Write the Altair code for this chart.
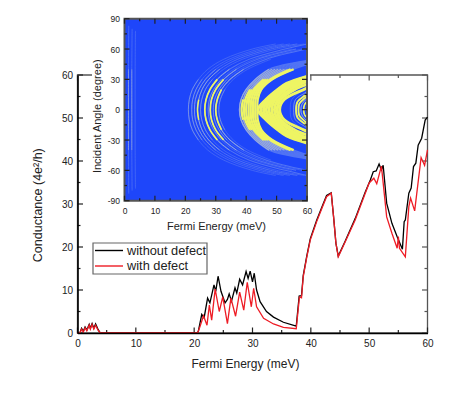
import altair as alt

# ---------- main plot values ----------
SERIES_NAMES = ["without defect", "with defect"]
BLACK_E = [0, .4, .7, 1, 1.3, 1.6, 2, 2.2, 2.5, 2.8, 3.1, 3.5, 3.9, 10, 20.4, 20.7, 21.3, 21.7, 22.3, 22.7, 23.4, 23.7, 24.1, 24.6, 25.3, 25.7, 26, 26.4, 27, 27.3, 27.8, 28.3, 28.9, 29.25, 29.6, 30, 30.3, 30.7, 31.3, 32.4, 33.6, 35.3, 37.5, 38, 38.4, 38.7, 39.3, 39.9, 41, 41.9, 42.7, 43.5, 43.9, 44.3, 44.7, 45.9, 47.6, 49.3, 50.2, 50.7, 51.2, 51.7, 52.1, 52.4, 53, 53.9, 54.8, 55.7, 56, 56.2, 56.8, 57.2, 57.6, 58, 58.4, 59, 59.6, 60]
BLACK_G = [0, 0, 1.1, .4, 1.4, .7, 2, 1.1, 2.2, 1.1, 2.1, .9, 0, 0, 0, .3, 4.3, 3.5, 8.1, 7, 11.2, 9.7, 13.2, 9.7, 7, 7.8, 9.1, 7.4, 10.5, 9.3, 12.5, 11.2, 14.3, 12.7, 14.4, 11.9, 13.9, 10, 7.3, 5, 3.7, 2.5, 1.6, 8.6, 8.7, 13.4, 17.9, 21.9, 26.2, 29.3, 32, 32.6, 27, 20.9, 17.9, 21.4, 26.6, 32.7, 35.6, 37.5, 37.7, 39.3, 37.9, 39, 30.2, 25.5, 22.4, 19.5, 25.9, 26.3, 32.5, 33.7, 38.7, 39.5, 43.7, 45.3, 49.5, 50.2]
RED_E = [0, .4, .7, 1, 1.3, 1.6, 2, 2.2, 2.5, 2.8, 3.1, 3.5, 3.9, 10, 20.6, 21, 21.6, 22.2, 22.6, 23, 23.6, 24.3, 24.9, 25.7, 26.3, 27.1, 27.8, 28.5, 29.1, 29.8, 30.2, 30.7, 31.9, 33.6, 35.3, 37.5, 38.05, 38.4, 38.7, 39.3, 39.9, 41, 41.9, 42.7, 43.5, 43.9, 44.3, 44.7, 45.9, 47.6, 49.3, 50, 50.8, 51.3, 52.1, 53, 53.9, 54.8, 55, 55.2, 56.2, 56.8, 57.1, 57.8, 58.9, 59.5, 60]
RED_G = [0, 0, .9, .2, 1.2, .5, 1.8, .9, 2, .9, 1.8, .7, 0, 0, 0, 1.5, 4, 1.8, 6.5, 3, 10.2, 5, 8.4, 2.2, 8.1, 3.9, 9.5, 5.3, 11.8, 6.1, 10.4, 6.1, 3.4, 2.1, 1.3, 1, 8.4, 8.2, 13.1, 17.6, 21.6, 25.9, 29, 31.7, 32.5, 27, 20.9, 17.7, 21.2, 26.3, 32.4, 34.9, 36, 34.7, 38.8, 27, 23.2, 19.7, 22.4, 19.7, 17.7, 29.4, 31.4, 28.4, 40.8, 39, 42.6]
MAIN_MAJOR_X = [0, 10, 20, 30, 40, 50, 60]
MAIN_MINOR_X = [5, 15, 25, 35, 45, 55]
MAIN_MAJOR_Y = [0, 10, 20, 30, 40, 50, 60]
MAIN_MINOR_Y = [5, 15, 25, 35, 45, 55]
INSET_MAJOR_Y = [-90, -60, -30, 0, 30, 60, 90]
INSET_MINOR_Y = [-75, -45, -15, 15, 45, 75]

# ---------- inset arcs: (angle, energy) points ----------
# each entry: points, angle up to which it is yellow, angle up to which it is pale, line width
T = [0, 10, 20, 30, 40, 50, 60, 65]
ARCS_A = [
    ([21.0, 21.3, 22.3, 24.3, 27.4, 32.7, 42, 49.7], -1, 30, 1.1),
    ([22.1, 22.4, 23.5, 25.5, 28.8, 34.4, 44.2, 52.3], -1, 30, 1.1),
    ([23.0, 23.3, 24.5, 26.6, 30, 35.8, 46, 54.4], -1, 40, 1.2),
    ([24.0, 24.4, 25.5, 27.7, 31.3, 37.3, 48, 56.8], 10, 40, 1.5),
    ([25.0, 25.4, 26.6, 28.9, 32.6, 38.9, 50, 59.1], -1, 30, 1.1),
]
ARCS_B = [
    ([26.4, 26.8, 28.1, 30.5, 34.5, 41.1, 52.8, 60], 30, 40, 1.7),
    ([27.5, 27.9, 29.3, 31.8, 35.9, 42.8, 55], -1, 30, 1.0),
    ([28.2, 28.6, 30, 32.6, 36.8, 43.9, 56.4], 30, 40, 1.7),
    ([29.2, 29.6, 31.1, 33.7, 38.1, 45.4, 58.4], -1, 30, 1.0),
    ([30.0, 30.5, 31.9, 34.7, 39.2, 46.7, 60], 20, 40, 1.7),
    ([31.0, 31.5, 33, 35.8, 40.5, 48.2], -1, 20, 1.0),
]
T_C = [0, 10, 20, 30, 40]
ARCS_C = [
    ([37.8, 38.3, 40, 43, 47.5], 48.5, 0),
    ([38.5, 39, 40.6, 43.7, 48.5], 48, 10),
    ([39.3, 39.7, 41.3, 44.4, 49.5], 47.5, 20),
    ([40, 40.4, 41.9, 45.1, 50.5], 47, 20),
    ([40.8, 41, 42.5, 45.8, 51.5], 46.5, 30),
    ([41.5, 41.7, 43.1, 46.5, 52.6], 46, 30),
    ([42.2, 42.4, 43.8, 47.2, 53.6], 45.5, 30),
    ([43, 43.1, 44.4, 47.9, 54.6], 45, 40),
    ([43.7, 43.8, 45, 48.6, 55.6], 44.5, 40),
]
ARCS_D = [
    ([(0, 43.9), (10, 46.5), (20, 50.4), (26, 53.3), (33, 60)]),
    ([(0, 44.8), (10, 47), (20, 50.7), (26, 54), (32, 60)]),
    ([(0, 45.7), (10, 47.6), (20, 51.2), (26, 54.8), (31, 60)]),
    ([(0, 46.6), (10, 48.2), (20, 51.7), (26, 55.6), (30.5, 60)]),
    ([(0, 47.5), (10, 48.9), (20, 52.3), (26, 56.4), (30, 60)]),
    ([(0, 48.4), (10, 49.6), (20, 53), (26, 57.3), (29, 60)]),
    ([(0, 49.3), (10, 50.5), (20, 54.5), (28, 60)]),
    ([(0, 50.2), (10, 51.4), (20, 56), (25, 60)]),
    ([(0, 51), (10, 52.5), (20, 59), (21.5, 60)]),
]
ARCS_E = [
    ([(0, 54.5), (10, 55), (18, 58), (22, 60)], -1, -1, 1.0),
    ([(0, 55.6), (10, 56.2), (16, 59), (18, 60)], -1, 18, 1.0),
    ([(0, 56.4), (8, 56.9), (14, 59.3), (16, 60)], 16, 16, 1.8),
    ([(0, 57.2), (6, 57.5), (12, 59.5), (13.5, 60)], 14, 14, 1.8),
    ([(0, 58), (5, 58.3), (10, 59.6), (11, 60)], -1, 11, 1.4),
    ([(0, 58.9), (5, 59.2), (8, 60)], 8, 8, 1.5),
    ([(0, 59.7), (3, 60)], -1, 3, 1.4),
]
ARCS_LOW = [
    ([(0, 1.3), (40, 1.3), (83, 1.4)], -1, 40, 1.3),
    ([(0, 2.4), (40, 2.4), (80, 2.5)], -1, 40, 1.2),
    ([(0, 3.5), (40, 3.5), (78, 3.6)], -1, -1, 1.1),
]

# ---------- build rows ----------
main_rows = [{"E": e, "G": g, "s": SERIES_NAMES[0]} for e, g in zip(BLACK_E, BLACK_G)] + \
            [{"E": e, "G": g, "s": SERIES_NAMES[1]} for e, g in zip(RED_E, RED_G)]

all_arcs = []
for vals_, b, m, w in ARCS_A + ARCS_B:
    all_arcs.append((list(zip(T, vals_)), b, m, w))
for vals_, end, b in ARCS_C:
    all_arcs.append((list(zip(T_C, vals_)) + [(end, 60)], b, 40, 2.3))
for pts in ARCS_D:
    all_arcs.append((pts, 40, 40, 2.9))
all_arcs += ARCS_E + ARCS_LOW

def tier_rows(limit_index, thin):
    rows = []
    for k, arc in enumerate(all_arcs):
        pts, w = arc[0], arc[3]
        limit = 999 if limit_index is None else arc[limit_index]
        use = [(t, e) for t, e in pts if t <= limit]
        if len(use) < 1 or limit < 0:
            continue
        seq = [(-t, e) for t, e in reversed(use[1:])] + use
        for i, (t, e) in enumerate(seq):
            rows.append({"a": k, "i": i, "t": t, "E": e, "w": w * thin})
    return rows

# ---------- scales (plot-area pixels) ----------
W, H = 350, 314.3
mx = alt.Scale(domain=[0, 60], range=[0, W])
my = alt.Scale(domain=[0, 60], range=[H, 56.3])
ix = alt.Scale(domain=[0, 60], range=[47, 229.5])
iy = alt.Scale(domain=[-90, 90], range=[182, 0])
FONT = "Liberation Sans"
TXT = "#222222"
GREY = "#555555"
BLACK = "#000000"
RED = "#ee1c25"

def vals(name, v):
    return alt.Chart(alt.Data(values=[{name: x} for x in v]))

def xt(v, xs, y0, y1, color):
    return vals("v", v).mark_rule(color=color, strokeWidth=1.2).encode(
        x=alt.X("v:Q", scale=xs, axis=None), y=alt.value(y0), y2=alt.value(y1))

def yt(v, ys, x0, x1, color):
    return vals("v", v).mark_rule(color=color, strokeWidth=1.2).encode(
        y=alt.Y("v:Q", scale=ys, axis=None), x=alt.value(x0), x2=alt.value(x1))

def box(xs, ys, x0, x1, y0, y1, **mk):
    return alt.Chart(alt.Data(values=[{"a": x0, "b": x1, "c": y0, "d": y1}])).mark_rect(**mk).encode(
        x=alt.X("a:Q", scale=xs, axis=None), x2="b:Q",
        y=alt.Y("c:Q", scale=ys, axis=None), y2="d:Q")

# main axes and curves
main_lines = alt.Chart(alt.Data(values=main_rows)).mark_line(strokeWidth=1.3).encode(
    x=alt.X("E:Q", scale=mx, axis=alt.Axis(
        orient="bottom", values=MAIN_MAJOR_X, ticks=False, grid=False, domainColor="black", domainWidth=1.6,
        labelFont=FONT, labelFontSize=10, labelColor=TXT, labelPadding=5, labelOverlap=False, labelFlush=False,
        title="Fermi Energy (meV)", titleFont=FONT, titleFontSize=12, titleFontWeight="normal",
        titleColor=TXT, titleX=167.5, titleY=25, zindex=1)),
    y=alt.Y("G:Q", scale=my, axis=alt.Axis(
        orient="left", values=MAIN_MAJOR_Y, ticks=False, grid=False, domainColor="black", domainWidth=1.6,
        labelFont=FONT, labelFontSize=10, labelColor=TXT, labelPadding=5, labelOverlap=False, labelFlush=False,
        title="Conductance (4e\u00b2/h)", titleFont=FONT, titleFontSize=12.5, titleFontWeight="normal",
        titleColor=TXT, titleX=-33, titleY=186, zindex=1)),
    color=alt.Color("s:N", scale=alt.Scale(domain=SERIES_NAMES, range=[BLACK, RED]), legend=None),
    order=alt.Order("s:N", sort="descending"),
    detail="s:N",
)

# hand-placed legend, as in the reference
def legend_entry(name, color, y):
    row = alt.Data(values=[{"s": name}])
    line = alt.Chart(row).mark_rule(color=color, strokeWidth=1.4).encode(
        x=alt.value(17.5), x2=alt.value(45.5), y=alt.value(y))
    label = alt.Chart(row).mark_text(font=FONT, fontSize=12.8, color=TXT, align="left", baseline="middle").encode(
        x=alt.value(49.5), y=alt.value(y), text="s:N")
    return [line, label]

legend_box = alt.Chart(alt.Data(values=[{"k": 1}])).mark_rect(
    fill="white", stroke="#666666", strokeWidth=1.2).encode(
    x=alt.value(15.5), x2=alt.value(129.5), y=alt.value(224.3), y2=alt.value(255.3))

layers = [
    box(mx, my, 0, 60, 0, 60, fillOpacity=0, stroke=GREY, strokeWidth=1.3),
    xt(MAIN_MAJOR_X, mx, H, H - 5.5, "#222222"),
    xt(MAIN_MINOR_X, mx, H, H - 3, "#222222"),
    xt(MAIN_MAJOR_X, mx, 56.3, 61.8, GREY),
    xt(MAIN_MINOR_X, mx, 56.3, 59.3, GREY),
    yt(MAIN_MAJOR_Y, my, 0, 5.5, "#222222"),
    yt(MAIN_MINOR_Y, my, 0, 3, "#222222"),
    yt(MAIN_MAJOR_Y, my, W, W - 5.5, GREY),
    yt(MAIN_MINOR_Y, my, W, W - 3, GREY),
    main_lines,
    legend_box,
    *legend_entry(SERIES_NAMES[0], BLACK, 231.8),
    *legend_entry(SERIES_NAMES[1], RED, 247.3),
    # white backing of the inset picture
    alt.Chart(alt.Data(values=[{"k": 1}])).mark_rect(color="white").encode(
        x=alt.value(14.5), x2=alt.value(232.5), y=alt.value(0), y2=alt.value(212)),
    box(ix, iy, 0, 60, -90, 90, fill="#1e46fa"),
]

def arc_layer(limit_index, color, thin):
    return alt.Chart(alt.Data(values=tier_rows(limit_index, thin))).mark_line(
        interpolate="catmull-rom", color=color).encode(
        x=alt.X("E:Q", scale=ix, axis=None),
        y=alt.Y("t:Q", scale=iy, axis=None),
        detail="a:N",
        order="i:Q",
        strokeWidth=alt.StrokeWidth("w:Q", scale=None),
    )

layers += [arc_layer(None, "#5274f4", 0.6), arc_layer(2, "#98aadc", 0.55), arc_layer(1, "#eef564", 1.0)]

inset_axes = box(
    ix, iy, 0, 60, -90, 90, fillOpacity=0, stroke=GREY, strokeWidth=2
).encode(
    x=alt.X("a:Q", scale=ix, axis=alt.Axis(
        orient="bottom", values=MAIN_MAJOR_X, ticks=False, domain=False, grid=False, offset=-(H - 182),
        labelFont=FONT, labelFontSize=8.5, labelColor=TXT, labelPadding=6, labelOverlap=False, labelFlush=False,
        title="Fermi Energy (meV)", titleFont=FONT, titleFontSize=11, titleFontWeight="normal",
        titleColor=TXT, titleX=138.5, titleY=20, zindex=1)),
    y=alt.Y("c:Q", scale=iy, axis=alt.Axis(
        orient="left", values=INSET_MAJOR_Y, ticks=False, domain=False, grid=False, offset=-47,
        labelFont=FONT, labelFontSize=8.5, labelColor=TXT, labelPadding=5, labelOverlap=False, labelFlush=False,
        labelExpr="toString(datum.value)",
        title="Incident Angle (degree)", titleFont=FONT, titleFontSize=11, titleFontWeight="normal",
        titleColor=TXT, titleX=-22, titleY=97, zindex=1)),
)
layers += [
    inset_axes,
    xt(MAIN_MAJOR_X, ix, 182, 177, "#222222"),
    xt(MAIN_MINOR_X, ix, 182, 179.5, "#222222"),
    xt(MAIN_MAJOR_X, ix, 0, 5, "#222222"),
    xt(MAIN_MINOR_X, ix, 0, 2.5, "#222222"),
    yt(INSET_MAJOR_Y, iy, 47, 52, "#222222"),
    yt(INSET_MINOR_Y, iy, 47, 49.5, "#222222"),
    yt(INSET_MAJOR_Y, iy, 229.5, 224.5, "#222222"),
    yt(INSET_MINOR_Y, iy, 229.5, 227, "#222222"),
]

chart = alt.layer(*layers).resolve_scale(x="independent", y="independent").properties(
    width=W, height=H,
    autosize=alt.AutoSizeParams(type="none"),
    padding={"left": 69.5, "top": 10.7, "right": 26, "bottom": 50},
).configure_view(stroke=None)

chart.save("out.html", embed_options={"renderer": "svg", "actions": False})
